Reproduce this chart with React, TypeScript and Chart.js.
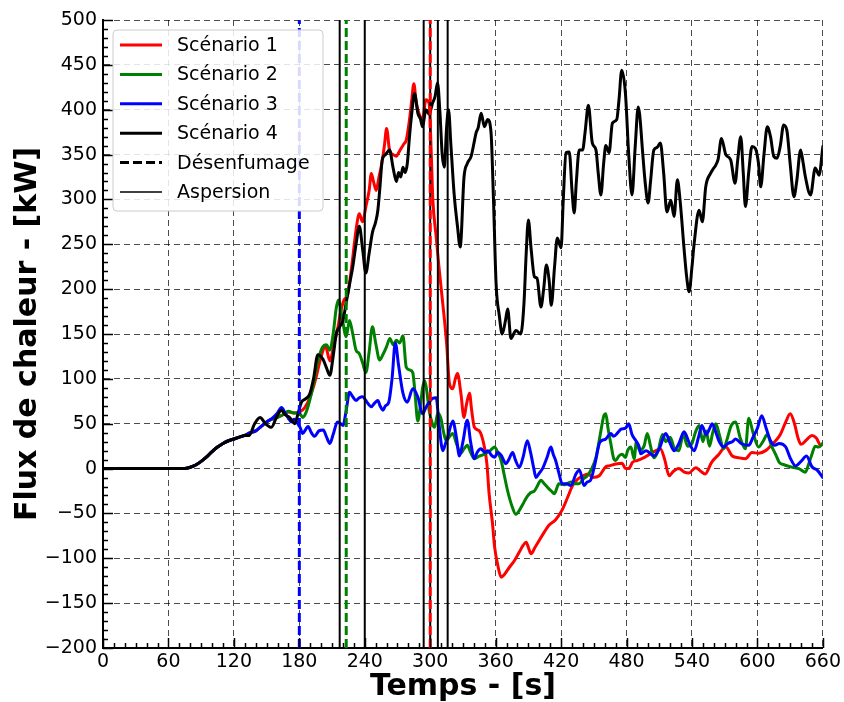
import React, { useEffect, useRef } from 'react';
import { Chart, registerables } from 'chart.js';

Chart.register(...registerables);

const FONT = "'DejaVu Sans', 'Liberation Sans', sans-serif";

// ---- axes ----
const xRange = [0, 660];
const xMajorStep = 60;
const xMinorStep = 10;
const yRange = [-200, 500];
const yMajorStep = 50;
const yMinorStep = 10;

// ---- legend labels ----
const seriesLabels = ['Scénario 1', 'Scénario 2', 'Scénario 3', 'Scénario 4'];
const extraLabels = ['Désenfumage', 'Aspersion'];

// ---- events (s) ----
// désenfumage times for scénario 1, 2, 3
const desenfumageTimes = [300, 223, 180];
const aspersionTimes = [217, 240, 294, 300, 307, 316];

// ---- Scénario 1 ----
const s1Times = [0, 75, 80, 85, 90, 95, 100, 105, 110, 115,
  120, 125, 130, 135, 140, 145, 150, 155, 160, 165,
  170, 175, 180, 185, 190, 195, 200, 204, 208, 212,
  215, 218, 221, 224, 228, 232, 235, 238, 241, 244,
  246, 248, 250.5, 253, 255, 258, 260, 262.7, 266, 269,
  271, 273.4, 276, 278, 281, 283, 285, 287, 288.6, 291,
  293, 296, 299, 301, 302.4, 305.5, 308, 311.5, 315, 317.6,
  320.7, 323, 325, 328, 331, 333, 336, 338, 340.5, 345,
  349.7, 352, 354, 357, 359, 362, 365, 368, 372.6, 377,
  381.7, 385, 388, 390, 392.4, 396, 400, 405, 409, 415,
  421, 426, 430.5, 435, 440, 445, 449, 455, 461, 464,
  470, 476, 479, 482, 485.5, 490, 494, 500, 507, 511,
  515, 519, 523, 528, 533, 537, 543.5, 548, 552, 558,
  564, 571, 577, 583, 589, 595, 601, 607.5, 612, 616.7,
  621, 626, 630, 634, 637, 640, 645, 650, 654, 658,
  660];
const s1Values = [0, 0, 1.5, 4, 8, 13, 19, 24, 28, 31,
  33, 35, 37, 40, 42, 47, 52, 55, 57, 60,
  63, 62, 63, 68, 80, 100, 125, 136, 120, 140,
  155, 175, 188, 193, 225, 266, 284, 275, 292, 310,
  329, 320, 310, 325, 336, 360, 379, 355, 350, 348,
  352, 357, 362, 366, 389, 410, 429, 410, 400, 392,
  389, 411, 407, 350, 300, 258, 225, 184, 140, 95,
  89, 100, 106, 85, 57, 70, 84, 65, 46, 42,
  24, 5, -28, -60, -87, -108, -121, -118, -110, -103,
  -93, -86, -82, -88, -95, -88, -80, -70, -63, -57,
  -46, -32, -19, -12, -8, -6, -10, -8, 2, 3,
  5, 6, 0, 0, 7, 9, 11, 15, 20, 22,
  10, -8, -3, 0, -4, -5, 1, -3, -6, 7,
  15, 24, 14, 12, 11, 18, 17, 20, 25, 31,
  38, 52, 61, 50, 35, 27, 32, 37, 34, 26,
  28];

// ---- Scénario 2 ----
const s2Times = [0, 75, 80, 85, 90, 95, 100, 105, 110, 115,
  120, 125, 130, 135, 140, 145, 150, 155, 160, 165,
  170, 175, 180, 183, 186, 189.5, 193, 197, 201.6, 205,
  208, 211, 214, 216, 219, 223, 226, 229, 232, 235,
  238, 241, 244, 247, 250, 253.6, 257, 260, 263, 266,
  269, 272, 275, 278, 281, 284, 286, 288.6, 291, 293,
  295, 297, 299, 302, 304, 307, 310, 312, 314.6, 318,
  320.7, 324, 328, 331, 334, 337, 340.5, 345, 350, 355,
  359, 362, 365, 368, 371, 375, 378.6, 382, 384.8, 389,
  392, 395.5, 398, 401.5, 404, 407.7, 411, 413.8, 418, 423,
  429, 433, 436.6, 440, 444, 448, 452, 456.5, 459, 461,
  463, 465.7, 468, 470, 473, 476, 479, 481, 484, 487,
  489, 492, 496, 499, 502, 505, 509, 513, 516, 520,
  524, 528, 532, 536, 540, 543, 546.5, 550, 553, 556,
  559, 561.8, 565, 569, 572, 576, 580, 584, 589, 592,
  596, 601, 605, 609, 613, 617, 620, 625, 632, 638,
  644, 647, 650, 653, 656, 660];
const s2Values = [0, 0, 1.5, 4, 8, 13, 19, 24, 28, 31,
  33, 35, 37, 40, 42, 47, 52, 55, 57, 60,
  64, 62, 62, 57, 62, 76, 95, 120, 136, 138,
  132, 150, 180, 188, 170, 147, 165, 150, 132, 128,
  118, 107, 130, 158, 140, 121, 128, 136, 145, 138,
  143, 140, 148, 113, 110, 107, 85, 53, 70, 90,
  98, 85, 65, 50, 46, 62, 55, 42, 31, 36,
  39, 28, 17, 22, 26, 18, 11, 14, 16, 20,
  24, 18, 9, -8, -25, -42, -51, -46, -40, -31,
  -27, -25, -20, -13, -16, -21, -25, -28, -17, -18,
  -15, -17, -17, -12, -8, 0, 12.5, 42, 58, 61,
  45, 27, 12, 9, 14, 16, 12.5, 20, 24, 11,
  30, 20, 25, 39, 25, 12, 20, 38, 30, 35,
  22, 20, 38, 25, 28, 40, 48, 30, 42, 25,
  40, 50, 38, 22, 32, 48, 52, 35, 22, 56,
  40, 24, 30, 38, 25, 15, 7, 4, 1.5, 0,
  -4, 5, 16, 25, 24, 28];

// ---- Scénario 3 ----
const s3Times = [0, 75, 80, 85, 90, 95, 100, 105, 110, 115,
  120, 125, 130, 135, 140, 145, 150, 155, 160, 163.6,
  167, 170, 172.7, 175, 178.6, 181, 183, 186, 188, 191,
  194, 198, 202, 205, 208, 211, 215, 218, 220, 223,
  226, 229, 232, 235, 238, 242, 246, 249, 252, 254,
  256.6, 259, 262, 265, 268, 271, 275, 279, 284, 288.6,
  293, 296, 299, 302, 305.5, 308, 311.6, 314, 316, 320.7,
  324, 326.8, 330, 334, 337, 340.5, 343, 346.6, 350, 353,
  356, 359, 362, 365, 369.5, 372, 375.6, 378, 381.7, 385,
  389, 392, 395, 397, 400, 403, 407, 410.7, 413, 415,
  418, 421, 425, 429, 433.6, 437, 441, 444, 447, 451,
  455, 457, 461, 465.6, 468, 472, 475, 479, 482, 485,
  488, 491.6, 493, 498, 505, 510, 516, 520, 523.6, 528,
  532.8, 537, 542, 546, 549, 553, 556, 558.5, 562, 565,
  569, 573, 577, 580, 585, 592, 596, 600, 604, 608,
  612, 616, 620, 626, 630, 635, 640, 645, 650, 655,
  660];
const s3Values = [0, 0, 1.5, 4, 8, 13, 19, 24, 28, 31,
  33, 35, 37, 40, 42, 47, 52, 56, 62, 68,
  62, 56, 52, 55, 50, 45, 39, 44, 47, 40,
  36, 42, 43, 35, 28, 38, 52, 50, 48, 65,
  85, 80, 76, 79, 80, 74, 69, 73, 76, 70,
  65, 70, 74, 100, 140, 115, 84, 74, 89, 80,
  61, 68, 74, 78, 79, 50, 20, 28, 35, 53,
  35, 14, 30, 54, 30, 11, 18, 22, 18, 20,
  15, 12.5, 18, 15, 5.5, 10, 18, 10, 1.5, 12,
  31, 18, 0, -10, -5, 0, 12, 24, 15, 9,
  -5, -17, -17, -19, -6, -2, -19, -15, -13, 5,
  28, 31, 33, 39, 36, 40, 44, 45, 50, 38,
  32, 24, 16.5, 20, 14, 22, 39, 28, 20, 28,
  41, 30, 20, 35, 48, 38, 44, 50, 40, 30,
  24, 28, 30, 33, 28, 26, 35, 45, 59, 45,
  31, 26, 28, 24, 12, 3, 8, 14, 2, -2,
  -10];

// ---- Scénario 4 ----
const s4Times = [0, 75, 80, 85, 90, 95, 100, 105, 110, 115,
  120, 125, 130, 134, 139, 144, 149, 154.4, 159, 163.6,
  167, 171, 175.8, 179, 182, 186, 189.5, 193, 197, 201.6,
  205, 208, 211, 214, 217, 220, 223, 226, 229, 232,
  235, 238, 241, 244, 247, 250, 252, 254, 256, 259,
  262.7, 266, 269, 271, 273, 275, 277, 279, 281, 283,
  285.6, 288.7, 291, 293, 296, 299, 302, 304.5, 306.7, 309,
  311, 313, 315, 316.8, 319, 322, 325, 327.5, 331, 334,
  337.5, 340, 342, 344, 346.7, 349.7, 352.7, 355.8, 358, 360.4,
  363.4, 366, 369, 371, 374, 378.6, 383, 386, 388, 390,
  392.5, 395.5, 398, 401.5, 404, 406.5, 409, 411, 414, 416.5,
  420, 422, 424.5, 427.5, 430, 432, 434, 436.6, 439.7, 442,
  445, 448.6, 452, 454, 456.5, 459, 461, 464, 467, 471,
  473, 475.6, 479, 482, 485, 488, 490.7, 492, 494.6, 497,
  499.8, 502, 505, 508, 511, 514, 517, 520.6, 523.6, 526.6,
  529, 532.8, 535, 537.4, 540, 542, 546.5, 549.5, 552.6, 557,
  560, 561.7, 564, 567, 571, 575.5, 579.5, 582, 584.7, 587,
  589, 592, 595, 598, 601, 603, 606, 609, 612, 615,
  618, 621, 624, 627, 630, 633.5, 636, 639.6, 642, 644,
  648.7, 653, 656.5, 660];
const s4Values = [0, 0, 1.5, 4, 8, 13, 19, 24, 28, 31,
  33, 35, 37, 37, 50, 57, 50, 46, 57, 65,
  60, 57, 50, 62, 74, 78, 83, 100, 127, 122,
  112, 104, 125, 151, 158, 165, 185, 205, 225, 250,
  270, 245, 218, 240, 263, 275, 288, 315, 344, 350,
  355, 335, 320, 330, 325, 336, 330, 340, 370, 395,
  418, 396, 390, 381, 400, 395, 407, 415, 430, 395,
  350, 336, 380, 400, 360, 305, 270, 247, 325, 340,
  348, 362, 374, 380, 396, 381, 389, 374, 300, 206,
  170, 150, 165, 178, 145, 154, 150, 185, 240, 277,
  245, 214, 212, 180, 200, 227, 210, 182, 225, 257,
  246, 300, 352, 353, 310, 285, 320, 355, 355, 375,
  405, 363, 355, 330, 305, 340, 360, 352, 385, 389,
  410, 444, 418, 350, 305, 360, 403, 395, 355, 320,
  296, 320, 355, 358, 363, 330, 286, 299, 281, 322,
  300, 244, 215, 197, 225, 251, 288, 275, 314, 329,
  335, 338, 345, 368, 350, 344, 318, 345, 370, 330,
  292, 330, 359, 357, 340, 314, 350, 381, 370, 348,
  346, 360, 383, 377, 340, 303, 320, 355, 340, 325,
  305, 335, 327, 359];

const seriesColors = ['#ff0000', '#008000', '#0000ff', '#000000'];

function fmt(v: number): string {
  return v < 0 ? '\u2212' + Math.abs(v) : String(v);
}

const tickPlugin = {
  id: 'inwardTicks',
  afterDatasetsDraw(chart: any) {
    const { ctx, chartArea: a, scales } = chart;
    const xs = scales.x;
    const ys = scales.y;
    ctx.save();
    ctx.strokeStyle = '#000';
    ctx.lineWidth = 1.5;
    ctx.setLineDash([]);
    ctx.beginPath();
    for (let v = xRange[0]; v <= xRange[1]; v += xMinorStep) {
      const px = Math.round(xs.getPixelForValue(v)) + 0.5;
      const len = v % xMajorStep === 0 ? 10 : 5;
      ctx.moveTo(px, a.bottom);
      ctx.lineTo(px, a.bottom - len);
    }
    for (let v = yRange[0]; v <= yRange[1]; v += yMinorStep) {
      const py = Math.round(ys.getPixelForValue(v)) + 0.5;
      const len = (v - yRange[0]) % yMajorStep === 0 ? 10 : 5;
      ctx.moveTo(a.left, py);
      ctx.lineTo(a.left + len, py);
    }
    ctx.stroke();
    ctx.restore();
  },
};

const legendPlugin = {
  id: 'insideLegend',
  afterDraw(chart: any) {
    const { ctx, chartArea: a } = chart;
    const x0 = a.left + 10;
    const y0 = a.top + 10;
    const w = 210;
    const h = 181;
    const r = 4;
    ctx.save();
    ctx.beginPath();
    ctx.moveTo(x0 + r, y0);
    ctx.lineTo(x0 + w - r, y0);
    ctx.arcTo(x0 + w, y0, x0 + w, y0 + r, r);
    ctx.lineTo(x0 + w, y0 + h - r);
    ctx.arcTo(x0 + w, y0 + h, x0 + w - r, y0 + h, r);
    ctx.lineTo(x0 + r, y0 + h);
    ctx.arcTo(x0, y0 + h, x0, y0 + h - r, r);
    ctx.lineTo(x0, y0 + r);
    ctx.arcTo(x0, y0, x0 + r, y0, r);
    ctx.closePath();
    ctx.fillStyle = 'rgba(255,255,255,0.85)';
    ctx.fill();
    ctx.strokeStyle = '#cccccc';
    ctx.lineWidth = 1;
    ctx.stroke();

    const items = [
      ...seriesLabels.map((l, i) => ({ label: l, color: seriesColors[i], width: 3, dash: [] as number[] })),
      { label: extraLabels[0], color: '#000', width: 3, dash: [9, 4] },
      { label: extraLabels[1], color: '#000', width: 1.5, dash: [] as number[] },
    ];
    ctx.font = `19px ${FONT}`;
    ctx.textBaseline = 'middle';
    ctx.textAlign = 'left';
    items.forEach((it, i) => {
      const y = y0 + 15 + i * 29.4;
      ctx.beginPath();
      ctx.setLineDash(it.dash);
      ctx.strokeStyle = it.color;
      ctx.lineWidth = it.width;
      ctx.moveTo(x0 + 7, y);
      ctx.lineTo(x0 + 49, y);
      ctx.stroke();
      ctx.setLineDash([]);
      ctx.fillStyle = '#000';
      ctx.fillText(it.label, x0 + 64, y + 1);
    });
    ctx.restore();
  },
};

export default function App() {
  const ref = useRef<HTMLCanvasElement | null>(null);

  useEffect(() => {
    document.body.style.margin = '0';
    const toPts = (ts: number[], vs: number[]) => ts.map((t, i) => ({ x: t, y: vs[i] }));
    const seriesData = [
      toPts(s1Times, s1Values),
      toPts(s2Times, s2Values),
      toPts(s3Times, s3Values),
      toPts(s4Times, s4Values),
    ];
    const datasets: any[] = [];
    seriesData.forEach((d, i) => {
      datasets.push({
        label: seriesLabels[i],
        data: d,
        borderColor: seriesColors[i],
        borderWidth: 3,
        pointRadius: 0,
        fill: false,
        cubicInterpolationMode: 'monotone',
        order: 4 - i + 1,
        borderJoinStyle: 'round',
        borderCapStyle: 'round',
      });
    });
    aspersionTimes.forEach((t, i) => {
      datasets.push({
        label: '_asp' + i,
        data: [{ x: t, y: yRange[0] }, { x: t, y: yRange[1] }],
        borderColor: '#000',
        borderWidth: 2,
        pointRadius: 0,
        fill: false,
        order: 1,
      });
    });
    desenfumageTimes.forEach((t, i) => {
      datasets.push({
        label: '_des' + i,
        data: [{ x: t, y: yRange[0] }, { x: t, y: yRange[1] }],
        borderColor: seriesColors[i],
        borderWidth: 3,
        borderDash: [9, 4],
        pointRadius: 0,
        fill: false,
        order: 0,
      });
    });

    const gridColor = 'rgba(0,0,0,0.7)';
    const chart = new Chart(ref.current as HTMLCanvasElement, {
      type: 'line',
      data: { datasets },
      options: {
        animation: false,
        responsive: false,
        events: [],
        layout: { padding: { top: 20, right: 20, left: 0, bottom: 0 } },
        plugins: { legend: { display: false }, tooltip: { enabled: false } },
        scales: {
          x: {
            type: 'linear',
            min: xRange[0],
            max: xRange[1],
            ticks: {
              stepSize: xMajorStep,
              autoSkip: false,
              maxRotation: 0,
              padding: 3,
              color: '#000',
              font: { family: FONT, size: 19 },
              callback: (v: any) => fmt(Number(v)),
            },
            grid: { color: gridColor, lineWidth: 1, drawTicks: false },
            border: { display: true, color: '#000', width: 2, dash: [6, 4] },
            title: {
              display: true,
              text: 'Temps - [s]',
              color: '#000',
              font: { family: FONT, size: 30, weight: 'bold' },
              padding: { top: 0, bottom: -3 },
            },
            afterFit: (s: any) => { s.height = 54; },
          },
          y: {
            type: 'linear',
            min: yRange[0],
            max: yRange[1],
            ticks: {
              stepSize: yMajorStep,
              autoSkip: false,
              padding: 6,
              color: '#000',
              font: { family: FONT, size: 19 },
              callback: (v: any) => fmt(Number(v)),
            },
            grid: { color: gridColor, lineWidth: 1, drawTicks: false },
            border: { display: true, color: '#000', width: 2, dash: [6, 4] },
            title: {
              display: true,
              text: 'Flux de chaleur - [kW]',
              color: '#000',
              font: { family: FONT, size: 30, weight: 'bold' },
              padding: { top: 10, bottom: 0 },
            },
            afterFit: (s: any) => { s.width = 103; },
          },
        },
      } as any,
      plugins: [tickPlugin, legendPlugin],
    });
    return () => chart.destroy();
  }, []);

  return (
    <div style={{ position: 'absolute', left: 0, top: 0, width: 844, height: 702 }}>
      <canvas ref={ref} width={844} height={702} style={{ display: 'block', width: 844, height: 702 }} />
    </div>
  );
}
